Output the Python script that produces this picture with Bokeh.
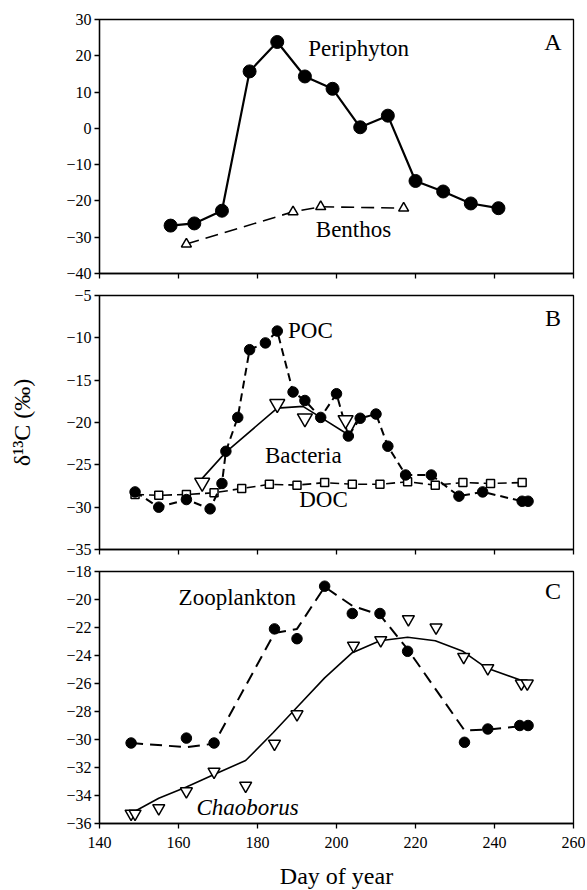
from bokeh.plotting import figure
from bokeh.layouts import column
from bokeh.models import FixedTicker, Label, Range1d
from bokeh.embed import file_html
from bokeh.resources import INLINE

FONT = "Liberation Serif"

# ---- Panel A ----
peri_day = [158, 164, 171, 178, 185, 192, 199, 206, 213, 220, 227, 234, 241]
peri_d13c = [-26.8, -26.2, -22.7, 15.7, 23.8, 14.3, 10.9, 0.3, 3.5, -14.5, -17.4, -20.7, -22.0]
benthos_day = [162, 189, 196, 217]
benthos_d13c = [-31.9, -23.0, -21.6, -22.0]

# ---- Panel B ----
poc_day = [149, 155, 162, 168, 171, 172, 175, 178, 182, 185, 189, 192, 196, 200, 203, 206,
           210, 213, 217.5, 224, 231, 237, 247, 248.5]
poc_d13c = [-28.2, -30.0, -29.1, -30.2, -27.2, -23.4, -19.4, -11.4, -10.6, -9.2, -16.4, -17.4,
            -19.4, -16.6, -21.6, -19.5, -19.0, -22.8, -26.2, -26.2, -28.7, -28.2, -29.3, -29.3]
doc_day = [149, 155, 162, 169, 176, 183, 190, 197, 204, 211, 218, 225, 232, 239, 247]
doc_d13c = [-28.5, -28.6, -28.5, -28.3, -27.8, -27.3, -27.4, -27.1, -27.3, -27.3, -27.0,
            -27.4, -27.1, -27.2, -27.1]
bact_day = [166, 185, 192, 202.3]
bact_d13c = [-27.1, -17.8, -19.5, -19.7]
bact_fit_day = [166, 172, 185, 191.5, 196, 203.2, 205]
bact_fit_d13c = [-26.6, -23.5, -18.3, -18.1, -19.4, -21.5, -19.9]

# ---- Panel C ----
zoo_day = [148, 162, 169, 184.3, 190, 197, 204, 211, 218, 232.4, 238.3, 246.4, 248.5]
zoo_d13c = [-30.25, -29.9, -30.25, -22.1, -22.8, -19.05, -21.0, -21.0, -23.7, -30.2, -29.25,
            -29.0, -29.0]
zoo_fit_day = [148, 162, 169, 184.3, 190, 197, 204, 211, 218, 232.4, 238.3, 248.5]
zoo_fit_d13c = [-30.25, -30.55, -30.3, -22.4, -22.1, -19.1, -20.45, -21.1, -23.55, -29.35,
                -29.3, -29.0]
chao_day = [148, 149, 155, 162, 169, 177, 184.3, 190, 204.3, 211.2, 218.2, 225.2, 232.2,
            238.3, 246.8, 248.3]
chao_d13c = [-35.3, -35.3, -34.9, -33.7, -32.3, -33.3, -30.3, -28.2, -23.3, -22.9, -21.4,
             -22.0, -24.1, -24.9, -26.0, -26.0]
chao_fit_day = [148.5, 155, 162, 169, 177, 184, 190, 197, 204, 211, 218, 225, 232, 238, 248.5]
chao_fit_d13c = [-35.2, -34.2, -33.4, -32.5, -31.5, -29.5, -27.7, -25.6, -23.8, -22.95,
                 -22.7, -22.95, -23.7, -24.9, -25.95]

x_ticks = [140, 160, 180, 200, 220, 240, 260]
yA_ticks = [-40, -30, -20, -10, 0, 10, 20, 30]
yB_ticks = [-35, -30, -25, -20, -15, -10, -5]
yC_ticks = [-36, -34, -32, -30, -28, -26, -24, -22, -20, -18]


def fmt(v):
    return ("\u2212" + str(abs(v))) if v < 0 else str(v)


def make_fig(yticks, top, fh, bottom, show_x_labels):
    p = figure(output_backend="svg", toolbar_location=None,
               frame_width=474, frame_height=fh,
               x_range=Range1d(140, 260), y_range=Range1d(yticks[0], yticks[-1]),
               min_border_left=99, min_border_right=12,
               min_border_top=top, min_border_bottom=bottom)
    p.background_fill_color = "white"
    p.border_fill_color = "white"
    p.outline_line_color = "black"
    p.outline_line_width = 1.3
    p.grid.visible = False
    for ax in (p.xaxis[0], p.yaxis[0]):
        ax.axis_line_color = "black"
        ax.axis_line_width = 1.3
        ax.major_tick_in = 0
        ax.major_tick_out = 5
        ax.major_tick_line_width = 1.3
        ax.minor_tick_in = 0
        ax.minor_tick_out = 0
        ax.major_label_text_font = FONT
        ax.major_label_text_font_size = "16px"
        ax.major_label_text_color = "black"
        ax.axis_label_text_font = FONT
        ax.axis_label_text_font_style = "normal"
        ax.axis_label_text_font_size = "24px"
        ax.axis_label_text_color = "black"
    p.xaxis.ticker = FixedTicker(ticks=x_ticks)
    p.yaxis.ticker = FixedTicker(ticks=yticks)
    p.yaxis.major_label_overrides = {v: fmt(v) for v in yticks}
    p.yaxis.major_label_standoff = 3
    if show_x_labels:
        p.xaxis.major_label_standoff = 8
    else:
        p.xaxis.major_label_text_font_size = "0px"
        p.xaxis.major_label_text_color = None
        p.xaxis.major_label_standoff = 0
    return p


def label(p, x, y, text, size="23px", style="normal", align="center"):
    p.add_layout(Label(x=x, y=y, text=text, text_font=FONT, text_font_size=size,
                       text_font_style=style, text_align=align, text_baseline="middle",
                       text_color="black"))


# Panel A
pA = make_fig(yA_ticks, 19, 254, 10, False)
pA.line(benthos_day, benthos_d13c, line_color="black", line_width=1.6, line_dash="13 7")
pA.scatter(benthos_day, benthos_d13c, marker="triangle", size=10, fill_color="white",
           line_color="black", line_width=1.5)
pA.line(peri_day, peri_d13c, line_color="black", line_width=2.2)
pA.scatter(peri_day, peri_d13c, marker="circle", size=13, fill_color="black", line_color="black")
label(pA, 205.6, 22.0, "Periphyton")
label(pA, 204.3, -27.9, "Benthos")
label(pA, 254.8, 23.7, "A", size="24px")

# Panel B
pB = make_fig(yB_ticks, 12, 254, 10, False)
pB.yaxis.axis_label = "\u03b4\u00b9\u00b3C (\u2030)"
pB.yaxis.axis_label_standoff = 28
pB.line(doc_day, doc_d13c, line_color="black", line_width=1.6, line_dash="9 5")
pB.scatter(doc_day, doc_d13c, marker="square", size=8, fill_color="white",
           line_color="black", line_width=1.5)
pB.line(poc_day, poc_d13c, line_color="black", line_width=2.0, line_dash="8 5")
pB.scatter(poc_day, poc_d13c, marker="circle", size=10.5, fill_color="black", line_color="black")
pB.line(bact_fit_day, bact_fit_d13c, line_color="black", line_width=1.6)
pB.scatter(bact_day, bact_d13c, marker="inverted_triangle", size=15, fill_color="white",
           line_color="black", line_width=1.5)
label(pB, 193.4, -9.15, "POC")
label(pB, 191.6, -23.9, "Bacteria")
label(pB, 196.7, -29.1, "DOC")
label(pB, 254.8, -7.6, "B", size="24px")

# Panel C
pC = make_fig(yC_ticks, 12, 252, 10, True)
pC.xaxis.axis_label = "Day of year"
pC.xaxis.axis_label_standoff = 12
pC.line(zoo_fit_day, zoo_fit_d13c, line_color="black", line_width=2.0, line_dash="12 7")
pC.scatter(zoo_day, zoo_d13c, marker="circle", size=10.5, fill_color="black", line_color="black")
pC.line(chao_fit_day, chao_fit_d13c, line_color="black", line_width=1.6)
pC.scatter(chao_day, chao_d13c, marker="inverted_triangle", size=12, fill_color="white",
           line_color="black", line_width=1.5)
label(pC, 174.9, -19.86, "Zooplankton")
label(pC, 177.5, -34.86, "Chaoborus", style="italic")
label(pC, 254.8, -19.36, "C", size="24px")

layout = column(pA, pB, pC, spacing=0)
open("out.html", "w").write(file_html(layout, INLINE))
